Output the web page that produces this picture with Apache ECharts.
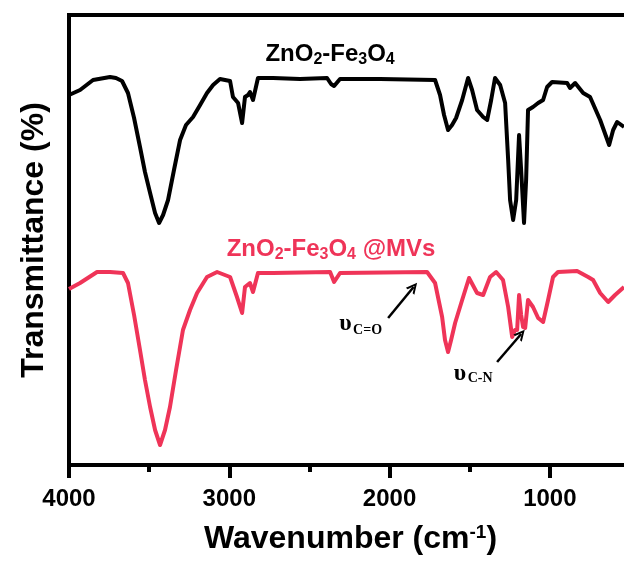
<!DOCTYPE html>
<html>
<head>
<meta charset="utf-8">
<script src="https://cdn.jsdelivr.net/npm/echarts@6/dist/echarts.min.js"></script>
<style>
html,body{margin:0;padding:0;background:#fff;}
#chart{width:624px;height:563px;}
</style>
</head>
<body>
<div id="chart"></div>
<script>
// FTIR spectra (transmittance in arbitrary units, offset traces)
var blackWn = [4000,3931,3850,3744,3707,3669,3632,3594,3557,3526,3494,3463,3438,3413,3382,3345,3307,3270,3226,3182,3139,3101,3058,2995,2977,2945,2920,2902,2883,2871,2852,2821,2727,2559,2390,2365,2346,2309,2059,1716,1685,1660,1635,1610,1585,1547,1510,1485,1454,1416,1391,1366,1342,1310,1279,1260,1248,1229,1210,1192,1179,1161,1148,1136,1105,1073,1042,1017,986,892,874,842,792,749,686,630,605,580,537];
var blackT  = [370,375,385,388,387,384,372,347,318,293,272,252,242,250,265,295,325,340,348,360,372,380,386,384,368,362,342,368,370,373,365,387,387,386,387,381,379,386,386,385,370,350,335,340,347,365,387,375,355,348,345,365,387,380,362,305,265,245,265,330,295,242,285,355,358,362,365,378,383,382,377,382,372,368,345,320,335,343,338];

var redWn = [4000,3931,3825,3744,3663,3632,3594,3557,3526,3494,3463,3432,3401,3370,3332,3289,3245,3201,3139,3076,2995,2952,2920,2902,2871,2852,2821,2727,2371,2346,2309,1766,1716,1672,1654,1635,1616,1591,1547,1504,1454,1416,1373,1335,1292,1260,1235,1217,1204,1192,1179,1167,1154,1136,1105,1073,1042,1011,980,949,830,761,730,686,636,593,537];
var redT  = [176,182,193,193,192,182,150,115,85,58,35,20,35,58,95,135,155,172,188,193,188,168,152,178,182,173,192,192,193,183,192,193,182,148,125,113,125,142,165,187,172,170,188,193,185,158,128,135,135,170,150,138,137,165,158,147,143,165,188,193,194,188,185,172,163,170,178];

var majorTicks = [1000, 2000, 3000, 4000];
var minorTicks = [500, 1500, 2500, 3500];

// annotation anchors [wavenumber, value]
var titleBlackAt = [2371, 411];
var titleRedAt = [2365, 216];
var upsCOAt = [2275, 141];
var subCOAt = [2137, 135];
var upsCNAt = [1560, 91];
var subCNAt = [1435, 87];
var arrowCO = [[2009, 147], [1850, 178]];
var arrowCN = [[1329, 103], [1179, 131]];

function pairs(xs, ys) {
    var out = [];
    for (var i = 0; i < xs.length; i++) out.push([xs[i], ys[i]]);
    return out;
}

var sans = 'Liberation Sans, Arial, sans-serif';
var serif = 'Liberation Serif, Times New Roman, serif';
var red = '#EF3458';
var chevron = 'path://M0,12 L6,0 L12,12 L9.6,12 L6,4.6 L2.4,12 Z';

function chemLabel(text, color) {
    return {
        show: true, position: 'inside', formatter: text, color: color,
        fontFamily: sans, fontWeight: 'bold', fontSize: 24,
        rich: {
            s: {fontFamily: sans, fontWeight: 'bold', fontSize: 16, padding: [11, 0, 0, 0], color: color}
        }
    };
}
function plainLabel(text, size) {
    return {show: true, position: 'inside', formatter: text, color: '#000',
        fontFamily: serif, fontWeight: 'bold', fontSize: size};
}
function pt(at, label) {
    return {coord: at, symbol: 'circle', symbolSize: 1, itemStyle: {color: 'rgba(0,0,0,0)'}, label: label};
}

var chart = echarts.init(document.getElementById('chart'));
var option = {
    animation: false,
    backgroundColor: '#fff',
    grid: {left: 69, right: -22, top: 15, bottom: 98, show: true, borderColor: '#000', borderWidth: 4,
        containLabel: false, outerBoundsMode: 'none'},
    xAxis: [{
        type: 'value', inverse: true, min: 400, max: 4000,
        axisLine: {show: true, lineStyle: {color: '#000', width: 4}},
        axisTick: {show: true, length: 13, customValues: majorTicks, lineStyle: {color: '#000', width: 4}},
        axisLabel: {customValues: majorTicks, fontSize: 24, fontWeight: 'bold', fontFamily: sans, color: '#000', margin: 22,
            formatter: function (v) { return String(v); }},
        splitLine: {show: false},
        name: 'Wavenumber (cm{sup|-1})', nameLocation: 'middle', nameGap: 58,
        nameTextStyle: {fontSize: 32, fontWeight: 'bold', fontFamily: sans, color: '#000', lineHeight: 32,
            padding: [0, 14, 0, 0],
            rich: {sup: {fontSize: 19, fontWeight: 'bold', fontFamily: sans, color: '#000', lineHeight: 19, verticalAlign: 'top'}}}
    }, {
        type: 'value', inverse: true, min: 400, max: 4000, position: 'bottom',
        axisLine: {show: false},
        axisTick: {show: true, length: 7, customValues: minorTicks, lineStyle: {color: '#000', width: 4}},
        axisLabel: {show: false},
        splitLine: {show: false}
    }],
    yAxis: {
        type: 'value', min: 0, max: 450,
        axisLine: {show: true, lineStyle: {color: '#000', width: 4}},
        axisTick: {show: false}, axisLabel: {show: false}, splitLine: {show: false},
        name: 'Transmittance (%)', nameLocation: 'middle', nameGap: 19,
        nameTextStyle: {fontSize: 32, fontWeight: 'bold', fontFamily: sans, color: '#000'}
    },
    series: [{
        name: 'ZnO2-Fe3O4', type: 'line', data: pairs(blackWn, blackT),
        showSymbol: false, symbol: 'none',
        lineStyle: {color: '#000', width: 4, join: 'round'}, itemStyle: {color: '#000'},
        markPoint: {silent: true, animation: false,
            data: [pt(titleBlackAt, chemLabel('ZnO{s|2}-Fe{s|3}O{s|4}', '#000'))]}
    }, {
        name: 'ZnO2-Fe3O4@MVs', type: 'line', data: pairs(redWn, redT),
        showSymbol: false, symbol: 'none',
        lineStyle: {color: red, width: 4, join: 'round'}, itemStyle: {color: red},
        markPoint: {silent: true, animation: false,
            data: [
                pt(titleRedAt, chemLabel('ZnO{s|2}-Fe{s|3}O{s|4} @MVs', red)),
                pt(upsCOAt, plainLabel('\u03C5', 24)),
                pt(subCOAt, plainLabel('C=O', 14)),
                pt(upsCNAt, plainLabel('\u03C5', 24)),
                pt(subCNAt, plainLabel('C-N', 14))
            ]},
        markLine: {silent: true, animation: false, symbol: ['none', chevron], symbolSize: [11, 11],
            lineStyle: {color: '#000', width: 2.5, type: 'solid'}, label: {show: false},
            emphasis: {disabled: true},
            data: [
                [{coord: arrowCO[0]}, {coord: arrowCO[1]}],
                [{coord: arrowCN[0]}, {coord: arrowCN[1]}]
            ]}
    }]
};
chart.setOption(option);
window.onresize = chart.resize;
</script>
</body>
</html>
